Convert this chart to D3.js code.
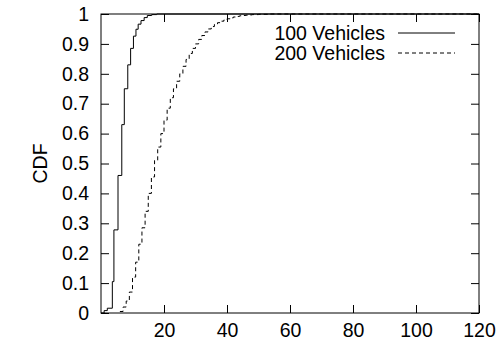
<!DOCTYPE html>
<html>
<head>
<meta charset="utf-8">
<script src="https://cdn.jsdelivr.net/npm/d3@7"></script>
<style>
  body { margin: 0; background: #fff; }
  svg { display: block; font-family: "Liberation Sans", Arial, sans-serif; }
</style>
</head>
<body>
<figure id="cdf-chart" style="margin:0"></figure>
<script>
// series names
const seriesNames = ["100 Vehicles", "200 Vehicles"];

// 100 vehicles: x where the CDF steps, and the value after the step
const x100 = [0, 1, 2, 3.6, 4.1, 5.4, 6.6, 7.4, 8.5, 9.4, 10.3, 11.1, 11.8, 12.7, 13.7, 14.7, 16.1, 17.7, 120];
const cdf100 = [0, 0.008, 0.016, 0.105, 0.278, 0.46, 0.63, 0.75, 0.83, 0.885, 0.926, 0.949, 0.966, 0.978, 0.988, 0.995, 0.998, 1, 1];

// 200 vehicles
const x200 = [6, 7, 8, 9, 10, 11, 12, 13, 14, 15, 16, 17, 18, 19, 20, 21, 22, 23, 24, 25, 26, 27, 28, 29, 30,
  31, 32, 33, 34, 35, 36, 37, 38, 39, 40, 41, 42, 43, 44, 45, 46, 47, 48, 50, 53, 120];
const cdf200 = [0.005, 0.02, 0.04, 0.07, 0.12, 0.17, 0.23, 0.285, 0.34, 0.4, 0.455, 0.51, 0.555, 0.6, 0.645, 0.685, 0.72, 0.75, 0.775, 0.8, 0.825, 0.848, 0.868, 0.885, 0.9,
  0.915, 0.928, 0.94, 0.95, 0.958, 0.965, 0.971, 0.976, 0.98, 0.984, 0.987, 0.99, 0.992, 0.994, 0.995, 0.996, 0.997, 0.998, 0.999, 1, 1];

// tick labels
const xTicks = [20, 40, 60, 80, 100, 120];
const yTicks = [0, 0.1, 0.2, 0.3, 0.4, 0.5, 0.6, 0.7, 0.8, 0.9, 1];

const width = 498, height = 344;
const margin = {top: 14, right: 19, bottom: 31, left: 101};
const fontSize = 19.5;

const svg = d3.select("figure#cdf-chart")
  .append("svg")
  .attr("width", width)
  .attr("height", height);

const x = d3.scaleLinear().domain([0, 120]).range([margin.left, width - margin.right]);
const y = d3.scaleLinear().domain([0, 1]).range([height - margin.bottom, margin.top]);

const tickLen = 8;

// bottom axis labels + inward ticks
svg.append("g")
  .attr("transform", "translate(0," + y(0) + ")")
  .call(d3.axisBottom(x).tickValues(xTicks).tickSize(-tickLen).tickPadding(10))
  .call(g => g.select(".domain").remove());

// top mirror ticks
svg.append("g")
  .attr("transform", "translate(0," + y(1) + ")")
  .call(d3.axisTop(x).tickValues(xTicks).tickSize(-tickLen).tickFormat(""))
  .call(g => g.select(".domain").remove());

// left axis labels + inward ticks
svg.append("g")
  .attr("transform", "translate(" + x(0) + ",0)")
  .call(d3.axisLeft(y).tickValues(yTicks).tickSize(-tickLen).tickPadding(12).tickFormat(d3.format("")))
  .call(g => g.select(".domain").remove());

// right mirror ticks
svg.append("g")
  .attr("transform", "translate(" + x(120) + ",0)")
  .call(d3.axisRight(y).tickValues(yTicks).tickSize(-tickLen).tickFormat(""))
  .call(g => g.select(".domain").remove());

svg.selectAll(".tick text")
  .attr("font-size", fontSize)
  .attr("font-family", "Liberation Sans, Arial, sans-serif")
  .attr("fill", "#000");
svg.selectAll(".tick line").attr("stroke", "#000");

// border
svg.append("rect")
  .attr("x", x(0))
  .attr("y", y(1))
  .attr("width", x(120) - x(0))
  .attr("height", y(0) - y(1))
  .attr("fill", "none")
  .attr("stroke", "#000");

// y axis title
svg.append("text")
  .attr("transform", "translate(47," + ((y(0) + y(1)) / 2) + ") rotate(-90)")
  .attr("text-anchor", "middle")
  .attr("font-size", fontSize)
  .text("CDF");

// step lines
const line = d3.line()
  .x(d => x(d[0]))
  .y(d => y(d[1]))
  .curve(d3.curveStepAfter);

const series = [
  {name: seriesNames[0], pts: d3.zip(x100, cdf100), dash: null},
  {name: seriesNames[1], pts: d3.zip(x200, cdf200), dash: "4,3"}
];

series.forEach(s => {
  svg.append("path")
    .attr("d", line(s.pts))
    .attr("fill", "none")
    .attr("stroke", "#000")
    .attr("stroke-width", 1)
    .attr("stroke-dasharray", s.dash);
});

// legend
series.forEach((s, i) => {
  const ly = 33 + i * 20;
  svg.append("text")
    .attr("x", 385)
    .attr("y", ly)
    .attr("dy", "0.35em")
    .attr("text-anchor", "end")
    .attr("font-size", fontSize)
    .text(s.name);
  svg.append("line")
    .attr("x1", 398).attr("x2", 455)
    .attr("y1", ly).attr("y2", ly)
    .attr("stroke", "#000")
    .attr("stroke-dasharray", s.dash);
});
</script>
</body>
</html>
